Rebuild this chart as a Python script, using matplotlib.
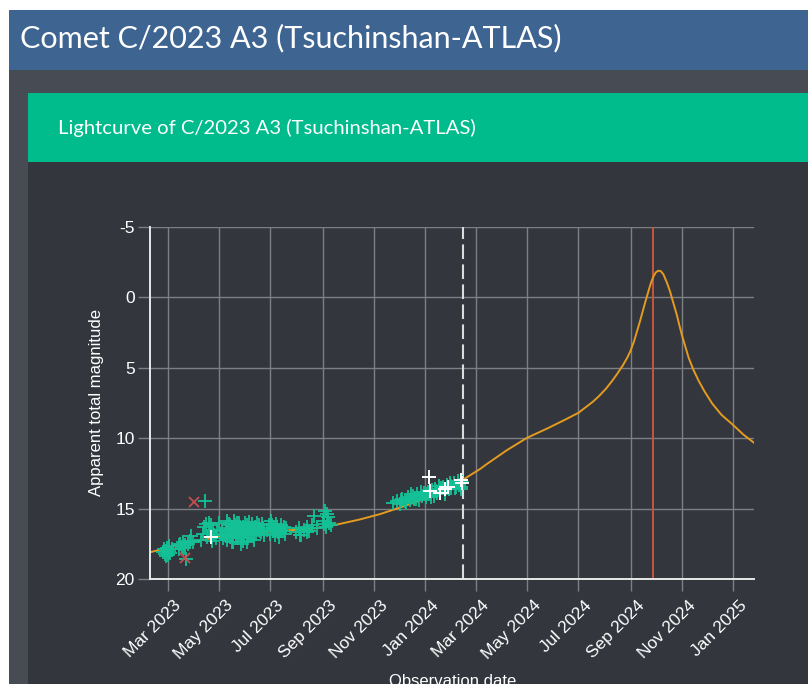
import matplotlib
matplotlib.use("Agg")
import matplotlib.pyplot as plt
import matplotlib.dates as mdates
import matplotlib.transforms as mtrans
from matplotlib.patches import Rectangle
import pandas as pd

# ---- data ----
green_obs = [
    ("2023-02-24", 18.1), ("2023-02-25", 17.9), ("2023-02-26", 18.25), ("2023-02-27", 18.0),
    ("2023-02-28", 17.8), ("2023-03-01", 18.3), ("2023-03-02", 18.0), ("2023-03-03", 17.9),
    ("2023-03-04", 18.15), ("2023-03-06", 17.85), ("2023-02-27", 18.35), ("2023-03-03", 17.65),
    ("2023-03-14", 17.9), ("2023-03-16", 17.5), ("2023-03-18", 17.75), ("2023-03-19", 17.4),
    ("2023-03-22", 17.6), ("2023-03-23", 18.55), ("2023-03-25", 17.5), ("2023-03-27", 17.3),
    ("2023-03-29", 16.95), ("2023-03-31", 17.4), ("2023-03-15", 17.6), ("2023-03-20", 17.8),
    ("2023-04-10", 17.2), ("2023-04-12", 16.8), ("2023-04-14", 14.5), ("2023-04-16", 16.1),
    ("2023-04-17", 17.0), ("2023-04-19", 16.0), ("2023-04-20", 16.7), ("2023-04-23", 17.3),
    ("2023-04-25", 16.9), ("2023-04-27", 17.1), ("2023-04-29", 16.5), ("2023-05-01", 16.0),
    ("2023-05-03", 16.8), ("2023-04-13", 16.3), ("2023-04-21", 16.2), ("2023-04-24", 16.5),
    ("2023-05-05", 16.6), ("2023-05-06", 17.1),
    ("2023-05-08", 16.9), ("2023-05-09", 16.4), ("2023-05-10", 17.2), ("2023-05-12", 16.6),
    ("2023-05-13", 16.1), ("2023-05-14", 17.0), ("2023-05-15", 16.5), ("2023-05-16", 16.8),
    ("2023-05-17", 16.3), ("2023-05-18", 17.4), ("2023-05-19", 16.7), ("2023-05-20", 16.2),
    ("2023-05-21", 16.9), ("2023-05-22", 16.5), ("2023-05-23", 17.1), ("2023-05-24", 16.6),
    ("2023-05-25", 16.0), ("2023-05-26", 16.8), ("2023-05-27", 16.4), ("2023-05-28", 17.0),
    ("2023-05-29", 16.6), ("2023-05-30", 16.3), ("2023-05-31", 16.9), ("2023-06-01", 16.5),
    ("2023-06-02", 16.7), ("2023-06-03", 16.2), ("2023-06-04", 17.1), ("2023-06-05", 16.6),
    ("2023-06-06", 16.4), ("2023-06-07", 16.8), ("2023-06-08", 16.5), ("2023-06-09", 16.1),
    ("2023-06-10", 16.9), ("2023-06-12", 16.6), ("2023-06-13", 16.3), ("2023-06-14", 16.8),
    ("2023-06-16", 16.5), ("2023-06-18", 16.2), ("2023-06-20", 16.7), ("2023-06-22", 16.4),
    ("2023-06-24", 16.6), ("2023-05-11", 15.85), ("2023-05-19", 15.9), ("2023-05-27", 17.5),
    ("2023-06-03", 17.4), ("2023-05-14", 16.2), ("2023-05-22", 16.0), ("2023-05-29", 17.3),
    ("2023-06-06", 15.95), ("2023-06-11", 17.2), ("2023-06-15", 16.0), ("2023-05-16", 17.35),
    ("2023-05-24", 16.4), ("2023-06-01", 16.0), ("2023-06-08", 16.9), ("2023-06-19", 16.6),
    ("2023-06-21", 16.1), ("2023-06-23", 16.9),
    ("2023-06-27", 16.5), ("2023-06-29", 16.2), ("2023-07-01", 16.8), ("2023-07-02", 15.9),
    ("2023-07-04", 16.6), ("2023-07-05", 16.4), ("2023-07-07", 16.9), ("2023-07-09", 16.3),
    ("2023-07-10", 16.7), ("2023-07-12", 16.5), ("2023-07-14", 16.2), ("2023-07-16", 16.6),
    ("2023-07-18", 16.8), ("2023-07-20", 16.4), ("2023-06-30", 16.6), ("2023-07-03", 16.2),
    ("2023-07-06", 16.5), ("2023-07-08", 16.1), ("2023-07-11", 17.0), ("2023-07-13", 16.6),
    ("2023-07-17", 16.3),
    ("2023-08-01", 16.7), ("2023-08-04", 16.4), ("2023-08-07", 16.9), ("2023-08-10", 16.5),
    ("2023-08-13", 16.3), ("2023-08-16", 16.6), ("2023-08-19", 16.2), ("2023-08-22", 15.5),
    ("2023-08-25", 16.4), ("2023-08-05", 16.9), ("2023-08-14", 16.7),
    ("2023-09-02", 15.9), ("2023-09-04", 15.2), ("2023-09-05", 16.3), ("2023-09-07", 15.6),
    ("2023-09-09", 16.0), ("2023-09-11", 16.2), ("2023-09-03", 16.1), ("2023-09-06", 15.4),
    ("2023-11-24", 14.6), ("2023-11-28", 14.5), ("2023-12-02", 14.7), ("2023-12-05", 14.3),
    ("2023-12-08", 14.5), ("2023-12-11", 14.2), ("2023-12-14", 14.4), ("2023-12-17", 14.1),
    ("2023-12-19", 14.3), ("2023-12-22", 14.0), ("2023-12-25", 14.4), ("2023-12-28", 14.1),
    ("2023-12-30", 13.9), ("2024-01-02", 14.2), ("2024-01-04", 13.8), ("2024-01-06", 14.0),
    ("2024-01-09", 13.7), ("2024-01-11", 14.1), ("2024-01-13", 13.6), ("2024-01-15", 13.9),
    ("2024-01-17", 13.4), ("2024-01-19", 13.8), ("2024-01-22", 13.5), ("2024-01-24", 13.7),
    ("2024-01-27", 13.3), ("2024-01-29", 13.6), ("2024-02-01", 13.4), ("2024-02-04", 13.2),
    ("2024-02-07", 13.5), ("2024-02-10", 13.3), ("2024-02-12", 13.6), ("2024-02-14", 13.1),
    ("2023-12-03", 14.4), ("2023-12-09", 14.6), ("2023-12-15", 14.0), ("2023-12-21", 14.3),
    ("2023-12-27", 13.8), ("2024-01-03", 13.95), ("2024-01-08", 14.15), ("2024-01-14", 13.75),
    ("2024-01-20", 13.55), ("2024-01-25", 13.95), ("2024-01-31", 13.2), ("2024-02-05", 13.55),
    ("2024-02-09", 13.05), ("2024-02-13", 13.45),
]
white_obs = [
    ("2023-04-22", 17.05), ("2024-01-06", 12.75), ("2024-01-07", 13.75), ("2024-01-18", 13.9),
    ("2024-01-24", 13.6), ("2024-01-28", 13.5), ("2024-02-13", 13.0), ("2024-02-14", 13.2),
]
red_obs = [("2023-04-01", 14.53), ("2023-03-21", 18.5)]

model_dates = [
    "2023-02-08", "2023-03-01", "2023-03-14", "2023-04-10", "2023-05-01", "2023-06-01",
    "2023-07-01", "2023-07-24", "2023-08-21", "2023-09-14", "2023-10-15", "2023-11-08",
    "2023-12-01", "2024-01-01", "2024-02-01", "2024-02-15", "2024-03-06", "2024-03-14",
    "2024-04-07", "2024-05-01", "2024-05-25", "2024-06-14", "2024-07-01", "2024-07-18",
    "2024-07-25", "2024-08-03", "2024-08-10", "2024-08-16", "2024-08-23", "2024-08-28",
    "2024-09-01", "2024-09-05", "2024-09-09", "2024-09-12", "2024-09-15", "2024-09-18",
    "2024-09-22", "2024-09-25", "2024-09-28", "2024-10-01", "2024-10-04", "2024-10-07",
    "2024-10-10", "2024-10-13", "2024-10-15", "2024-10-18", "2024-10-22", "2024-10-26",
    "2024-10-29", "2024-11-01", "2024-11-05", "2024-11-09", "2024-11-15", "2024-11-21",
    "2024-11-28", "2024-12-07", "2024-12-18", "2025-01-01", "2025-01-13", "2025-01-26",
]
model_mag = [
    18.1, 17.8, 17.6, 17.25, 17.0, 16.75,
    16.62, 16.54, 16.42, 16.19, 15.78, 15.4,
    14.95, 14.3, 13.5, 12.95, 12.2, 11.85,
    10.86, 9.98, 9.32, 8.73, 8.21, 7.43,
    7.05, 6.48, 5.95, 5.45, 4.82, 4.3,
    3.8, 3.15, 2.35, 1.75, 1.1, 0.45,
    -0.38, -0.98, -1.45, -1.76, -1.88, -1.84,
    -1.62, -1.2, -0.9, -0.38, 0.45, 1.27,
    2.0, 2.69, 3.5, 4.3, 5.2, 5.95,
    6.7, 7.55, 8.35, 9.08, 9.75, 10.35,
]
today = "2024-02-15"
perihelion = "2024-09-28"
x_range = ("2023-02-08", "2025-01-26")
y_ticks = [-5, 0, 5, 10, 15, 20]
y_tick_labels = ["-5", "0", "5", "10", "15", "20"]

# ---- page layout (pixels) ----
W, H = 808, 684
fig = plt.figure(figsize=(W / 100, H / 100), dpi=100)
fig.patch.set_facecolor("white")


def box(x0, y0, x1, y1, color):
    fig.add_artist(Rectangle((x0 / W, 1 - y1 / H), (x1 - x0) / W, (y1 - y0) / H,
                             transform=fig.transFigure, facecolor=color,
                             edgecolor="none", zorder=0))


box(9, 70, W, H, "#474c54")
box(9, 10, W, 70, "#3e6491")
box(28, 93, W, H, "#33363d")
box(28, 93, W, 162, "#00bb8c")

fig.text(20 / W, 1 - 38 / H, "Comet C/2023 A3 (Tsuchinshan-ATLAS)", color="white",
         fontsize=22, family="Lato", va="center", ha="left")
fig.text(58 / W, 1 - 128 / H, "Lightcurve of C/2023 A3 (Tsuchinshan-ATLAS)", color="white",
         fontsize=14.6, family="Lato", va="center", ha="left")

# ---- chart ----
plt.rcParams["font.family"] = ["Liberation Sans", "DejaVu Sans"]
ax = fig.add_axes([150 / W, (H - 579) / H, (754.3 - 150) / W, (579 - 226.7) / H])
ax.set_facecolor("none")

grid_col = "#7d7f84"
ax.plot(pd.to_datetime(model_dates), model_mag, color="#e49b1f", lw=1.4, zorder=3)

gd, gm = zip(*green_obs)
ax.plot(pd.to_datetime(list(gd)), gm, "+", color="#14c196", ms=10, mew=1.3, zorder=4)
wd, wm = zip(*white_obs)
ax.plot(pd.to_datetime(list(wd)), wm, "+", color="white", ms=10, mew=1.4, zorder=5)
rd, rm = zip(*red_obs)
ax.plot(pd.to_datetime(list(rd)), rm, "x", color="#c44f4f", ms=7, mew=1.3, zorder=5)

ax.axvline(pd.Timestamp(today), color="#dcdcdc", lw=1.5, ls=(0, (7, 2.6)), zorder=2)
ax.axvline(pd.Timestamp(perihelion), color="#c9553f", lw=1.4, zorder=2)

ax.set_xlim(pd.Timestamp(x_range[0]), pd.Timestamp(x_range[1]))
ax.set_ylim(20, -5)
ax.set_yticks(y_ticks)
ax.set_yticklabels(y_tick_labels)
ax.xaxis.set_major_locator(mdates.MonthLocator(bymonth=[1, 3, 5, 7, 9, 11]))
ax.xaxis.set_major_formatter(mdates.DateFormatter("%b %Y"))

ax.grid(color=grid_col, lw=1.0, zorder=1)
ax.set_axisbelow(True)
ax.tick_params(axis="both", colors=grid_col, length=8.5, width=1.0, labelcolor="white",
               labelsize=12.5)
ax.tick_params(axis="y", pad=2.5)
ax.tick_params(axis="x", pad=5)
shift = mtrans.ScaledTranslation(6 / 100, 0, fig.dpi_scale_trans)
for lab in ax.get_xticklabels():
    lab.set_rotation(45)
    lab.set_ha("right")
    lab.set_va("top")
    lab.set_rotation_mode("anchor")
    lab.set_transform(lab.get_transform() + shift)

for s in ("top", "right"):
    ax.spines[s].set_visible(False)
for s in ("left", "bottom"):
    ax.spines[s].set_color("#e8e8e8")
    ax.spines[s].set_linewidth(1.4)
    ax.spines[s].set_zorder(6)

ax.set_ylabel("Apparent total magnitude", color="white", fontsize=12)
ax.yaxis.set_label_coords(-0.076, 0.5)
ax.set_xlabel("Observation date", color="white", fontsize=12)
ax.xaxis.set_label_coords(0.5, (579 - 674) / (579 - 226.7))

fig.savefig("out.png", dpi=100, facecolor=fig.get_facecolor())
